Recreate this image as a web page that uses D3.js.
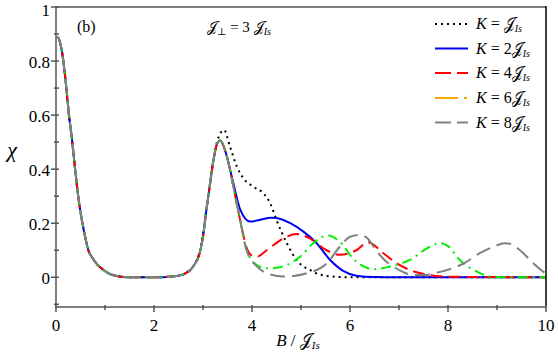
<!DOCTYPE html>
<html lang="en">
<head>
<meta charset="UTF-8" />
<title>chi vs B</title>
<style>
  body { margin: 0; background: #fff; }
  text { font-family: "Liberation Serif", "DejaVu Serif", serif; fill: #000; }
  .tick-label { font-size: 17px; }
  .curve { fill: none; stroke-width: 2px; }
</style>
</head>
<body>
<svg width="558" height="355"></svg>
<script src="https://cdn.jsdelivr.net/npm/d3@7"></script>
<script>
// shared low-field part (all K coincide here)
const headB   = [0, 0.05, 0.1, 0.15, 0.2, 0.265, 0.32, 0.39, 0.46, 0.54, 0.6, 0.66, 0.75, 0.83, 0.95, 1.1, 1.27, 1.5, 1.8, 2.1, 2.3, 2.5, 2.65, 2.8];
const headChi = [0.89, 0.885, 0.855, 0.80, 0.72, 0.60, 0.52, 0.40, 0.29, 0.20, 0.145, 0.10, 0.07, 0.05, 0.03, 0.012, 0.004, 0.0, 0.0, 0.0, 0.002, 0.006, 0.015, 0.04];

// K = 1
const k1B   = [2.94, 3.07, 3.21, 3.3, 3.43, 3.55, 3.69, 3.82, 4.03, 4.23, 4.37, 4.5, 4.71, 4.91, 5.18, 5.52, 6.0, 10];
const k1Chi = [0.10, 0.25, 0.43, 0.51, 0.545, 0.484, 0.41, 0.367, 0.335, 0.311, 0.274, 0.212, 0.126, 0.064, 0.027, 0.005, 0.0, 0.0];
// K = 2
const k2B   = [2.94, 3.0, 3.07, 3.14, 3.21, 3.28, 3.35, 3.45, 3.55, 3.62, 3.76, 3.96, 4.15, 4.4, 4.6, 4.78, 5.05, 5.32, 5.59, 5.86, 6.13, 6.5, 7, 10];
const k2Chi = [0.095, 0.15, 0.25, 0.34, 0.43, 0.49, 0.506, 0.47, 0.40, 0.348, 0.25, 0.206, 0.212, 0.22, 0.215, 0.20, 0.169, 0.126, 0.065, 0.024, 0.006, 0.001, 0.0, 0.0];
// K = 4
const k4B   = [2.94, 3.0, 3.07, 3.14, 3.21, 3.28, 3.35, 3.45, 3.55, 3.62, 3.76, 3.89, 4.0, 4.1, 4.3, 4.64, 4.91, 5.18, 5.52, 5.8, 6.13, 6.37, 6.68, 6.95, 7.22, 7.63, 8.0, 10];
const k4Chi = [0.095, 0.15, 0.25, 0.34, 0.43, 0.49, 0.506, 0.47, 0.40, 0.335, 0.21, 0.11, 0.08, 0.076, 0.10, 0.144, 0.16, 0.144, 0.10, 0.083, 0.10, 0.13, 0.089, 0.052, 0.027, 0.008, 0.002, 0.0];
// K = 6
const k6B   = [2.94, 3.0, 3.07, 3.14, 3.21, 3.28, 3.35, 3.45, 3.55, 3.62, 3.76, 3.89, 4.1, 4.3, 4.5, 4.7, 4.98, 5.25, 5.55, 5.8, 6.07, 6.34, 6.5, 6.82, 7.22, 7.63, 7.84, 8.0, 8.24, 8.59, 8.86, 9.2, 10];
const k6Chi = [0.095, 0.15, 0.25, 0.34, 0.43, 0.49, 0.506, 0.47, 0.40, 0.335, 0.21, 0.10, 0.045, 0.033, 0.035, 0.045, 0.076, 0.126, 0.155, 0.13, 0.068, 0.035, 0.03, 0.04, 0.064, 0.113, 0.126, 0.115, 0.064, 0.021, 0.003, 0.0, 0.0];
// K = 8
const k8B   = [2.94, 3.0, 3.07, 3.14, 3.21, 3.28, 3.35, 3.45, 3.55, 3.62, 3.76, 3.89, 4.1, 4.3, 4.64, 4.85, 5.12, 5.52, 5.8, 6.0, 6.2, 6.35, 6.55, 6.7, 6.88, 7.1, 7.29, 7.5, 7.84, 8.31, 8.65, 8.93, 9.16, 9.3, 9.47, 9.74, 9.94, 10];
const k8Chi = [0.095, 0.15, 0.25, 0.34, 0.43, 0.49, 0.506, 0.47, 0.40, 0.335, 0.21, 0.10, 0.04, 0.015, 0.003, 0.005, 0.015, 0.05, 0.115, 0.15, 0.157, 0.145, 0.095, 0.065, 0.04, 0.018, 0.008, 0.008, 0.02, 0.05, 0.089, 0.113, 0.126, 0.122, 0.10, 0.052, 0.021, 0.015];

const xTicks = [0, 2, 4, 6, 8, 10];
const yTicks = [0, 0.2, 0.4, 0.6, 0.8, 1];

const svg = d3.select('svg');
const x = d3.scaleLinear().domain([0, 10]).range([56, 546]);
const y = d3.scaleLinear().domain([-0.11, 1.0]).range([307, 7]);

const series = [
    { name: '', B: k1B, chi: k1Chi, color: '#000', legendColor: '#000', dash: '2,4', legendDash: '2,4' },
    { name: '2', B: k2B, chi: k2Chi, color: '#0000f0', legendColor: '#0000f0', dash: null, legendDash: null },
    { name: '4', B: k4B, chi: k4Chi, color: '#ff0000', legendColor: '#ff0000', dash: '12,6', legendDash: '16,6' },
    { name: '6', B: k6B, chi: k6Chi, color: '#00ee00', legendColor: '#ffa500', dash: '10,5,2,5', legendDash: '23,6,3,6' },
    { name: '8', B: k8B, chi: k8Chi, color: '#808080', legendColor: '#808080', dash: '15,7', legendDash: '16,6' }
];

const line = d3.line()
    .x((d) => x(d[0]))
    .y((d) => y(d[1]))
    .curve(d3.curveMonotoneX);

const plot = svg.append('g');
series.forEach((s) => {
    const pts = headB.map((b, i) => [b, headChi[i]]).concat(s.B.map((b, i) => [b, s.chi[i]]));
    plot.append('path')
        .datum(pts)
        .attr('class', 'curve')
        .attr('d', line)
        .attr('stroke', s.color)
        .attr('stroke-dasharray', s.dash);
});

// frame
const axisColor = '#7f7f7f';
svg.append('line').attr('x1', 56).attr('x2', 546).attr('y1', 7).attr('y2', 7).attr('stroke', axisColor).attr('stroke-width', 2);
svg.append('line').attr('x1', 546).attr('x2', 546).attr('y1', 6).attr('y2', 307).attr('stroke', '#000').attr('stroke-width', 1.5);
svg.append('line').attr('x1', 56).attr('x2', 56).attr('y1', 6).attr('y2', 308).attr('stroke', axisColor).attr('stroke-width', 2);
svg.append('line').attr('x1', 55).attr('x2', 547).attr('y1', 307).attr('y2', 307).attr('stroke', axisColor).attr('stroke-width', 2);

// ticks
const xMinor = d3.range(1, 10, 2);
svg.selectAll('.xmaj').data(xTicks).enter().append('line')
    .attr('x1', (d) => x(d)).attr('x2', (d) => x(d)).attr('y1', 305).attr('y2', 312)
    .attr('stroke', '#555').attr('stroke-width', 1.5);
svg.selectAll('.xmin').data(xMinor).enter().append('line')
    .attr('x1', (d) => x(d)).attr('x2', (d) => x(d)).attr('y1', 305).attr('y2', 310)
    .attr('stroke', '#555').attr('stroke-width', 1.5);
svg.selectAll('.xlab').data(xTicks).enter().append('text')
    .attr('class', 'tick-label')
    .attr('x', (d) => x(d)).attr('y', 331)
    .attr('text-anchor', 'middle')
    .text((d) => d);

const yMinor = [-0.1, 0.1, 0.3, 0.5, 0.7, 0.9];
svg.selectAll('.ymaj').data(yTicks).enter().append('line')
    .attr('x1', 51).attr('x2', 59).attr('y1', (d) => y(d)).attr('y2', (d) => y(d))
    .attr('stroke', '#555').attr('stroke-width', 1.5);
svg.selectAll('.ymin').data(yMinor).enter().append('line')
    .attr('x1', 54).attr('x2', 59).attr('y1', (d) => y(d)).attr('y2', (d) => y(d))
    .attr('stroke', '#555').attr('stroke-width', 1.5);
svg.selectAll('.ylab').data(yTicks).enter().append('text')
    .attr('class', 'tick-label')
    .attr('x', 50).attr('y', (d) => y(d) + (d === 1 ? 9 : 7))
    .attr('text-anchor', 'end')
    .text((d) => d);

// axis titles
svg.append('text').attr('x', 12).attr('y', 157).attr('text-anchor', 'middle')
    .style('font-size', '22px').style('font-style', 'italic').text('χ');

const xt = svg.append('text').attr('x', 298).attr('y', 346).attr('text-anchor', 'middle').style('font-size', '17px');
xt.append('tspan').style('font-style', 'italic').text('B');
xt.append('tspan').text(' / ');
xt.append('tspan').text('𝒥');
xt.append('tspan').attr('dy', 3).style('font-size', '11px').style('font-style', 'italic').text('Is');

svg.append('text').attr('x', 77).attr('y', 32).style('font-size', '16px').text('(b)');

const jt = svg.append('text').attr('x', 207).attr('y', 32).style('font-size', '15px');
jt.append('tspan').text('𝒥');
jt.append('tspan').attr('dy', 3).style('font-size', '10px').text('⊥');
jt.append('tspan').attr('dy', -3).text(' = 3 𝒥');
jt.append('tspan').attr('dy', 3).style('font-size', '10px').style('font-style', 'italic').text('Is');

// legend
const legend = svg.append('g');
const legendY = [24, 48.5, 73, 98, 122.5];
series.forEach((s, i) => {
    const ly = legendY[i];
    legend.append('line')
        .attr('x1', 435).attr('x2', 468).attr('y1', ly).attr('y2', ly)
        .attr('stroke', s.legendColor).attr('stroke-width', 2)
        .attr('stroke-dasharray', s.legendDash);
    const t = legend.append('text').attr('x', 476).attr('y', ly + 5).style('font-size', '16px');
    t.append('tspan').style('font-style', 'italic').text('K');
    t.append('tspan').text(' = ' + (s.name ? s.name : ' ') + '𝒥');
    t.append('tspan').attr('dy', 3).style('font-size', '10px').style('font-style', 'italic').text('Is');
});
</script>
</body>
</html>
